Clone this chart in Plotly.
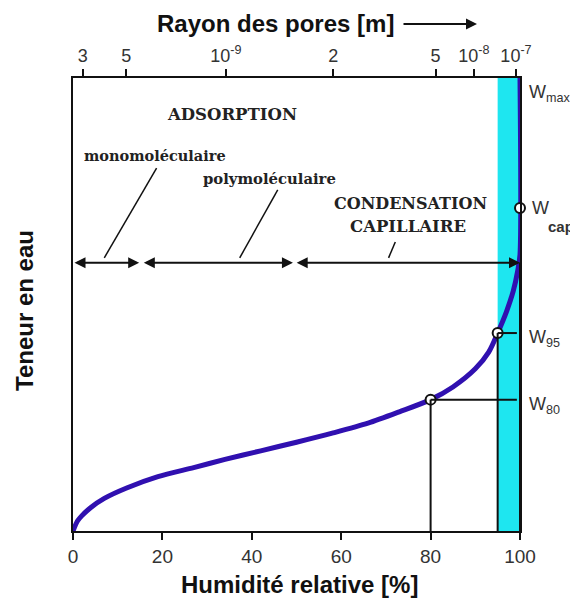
import plotly.graph_objects as go

# ---- data ----
humidity = [0, 1, 2, 4, 7, 12, 19, 27, 34, 42, 50, 58, 66, 73, 80, 85, 90, 93, 95, 97, 98.5, 99.5, 100, 100]
water = [0, 2.2, 3.4, 5.2, 7.2, 9.5, 12.0, 14.0, 15.8, 17.7, 19.6, 21.6, 23.8, 26.3, 29.0, 31.8, 35.8, 39.5, 43.7, 48.5, 53.0, 57.5, 61.0, 100]

bottom_ticks = [0, 20, 40, 60, 80, 100]
top_tick_pos = [2.2, 11.9, 34.2, 58.2, 81.1, 89.7, 99.1]
top_tick_text = ["3", "5", "10<sup>-9</sup>", "2", "5", "10<sup>-8</sup>", "10<sup>-7</sup>"]

point_names = ["W80", "W95", "Wcap"]
point_x = [80, 95, 100]
point_y = [29.0, 43.7, 71.3]

band_range = [95, 100]
arrow_level = 59.2
segments = [[0, 14.8], [15.5, 49.2], [49.7, 100]]

curve_color = "#3010b0"
cyan = "#1ee6f0"
serif = "DejaVu Serif"
sans = "Liberation Sans"

fig = go.Figure()

# cyan band
fig.add_shape(type="rect", xref="x", yref="y", x0=band_range[0], x1=band_range[1], y0=0, y1=100,
              fillcolor=cyan, line_width=0, layer="below")

# reference lines for W80 and W95
for px, py in zip(point_x[:2], point_y[:2]):
    fig.add_shape(type="line", xref="x", yref="y", x0=px, x1=px, y0=0, y1=py,
                  line=dict(color="#111", width=2))
    fig.add_shape(type="line", xref="x", yref="y", x0=px, x1=99.3, y0=py, y1=py,
                  line=dict(color="#111", width=2))
# right black edge below the arrow line
fig.add_shape(type="line", xref="x", yref="y", x0=100, x1=100, y0=0, y1=arrow_level,
              line=dict(color="#111", width=2))

# curve
fig.add_trace(go.Scatter(x=humidity, y=water, mode="lines",
                         line=dict(color=curve_color, width=5, shape="spline", smoothing=0.8),
                         cliponaxis=False, hoverinfo="skip", showlegend=False))
# markers
fig.add_trace(go.Scatter(x=point_x, y=point_y, mode="markers",
                         marker=dict(size=10, color="white", line=dict(color="#111", width=2)),
                         cliponaxis=False, hoverinfo="skip", showlegend=False))
# invisible trace for top axis
fig.add_trace(go.Scatter(x=[0, 100], y=[0, 0], xaxis="x2", mode="markers",
                         marker=dict(opacity=0), hoverinfo="skip", showlegend=False))

# double-headed arrows
for a, b in segments:
    fig.add_annotation(x=b, y=arrow_level, ax=a, ay=arrow_level, xref="x", yref="y",
                       axref="x", ayref="y", text="", showarrow=True, arrowhead=2,
                       arrowside="end+start", arrowsize=1.1, arrowwidth=2,
                       arrowcolor="#111", startarrowhead=2, startarrowsize=1.1,
                       standoff=0, startstandoff=0)

# leader lines
leaders = [[(18.7, 80.1), (7.0, 60.3)], [(45.8, 75.3), (37.3, 60.3)], [(72.1, 63.8), (70.6, 60.3)]]
for (x0, y0), (x1, y1) in leaders:
    fig.add_shape(type="line", xref="x", yref="y", x0=x0, y0=y0, x1=x1, y1=y1,
                  line=dict(color="#111", width=1.5))

# texts in plot
def txt(x, y, s, size=15, family=serif):
    fig.add_annotation(x=x, y=y, xref="x", yref="y", text=s, showarrow=False,
                       xanchor="center", yanchor="middle",
                       font=dict(family=family, size=size, color="#222"))

txt(35.5, 91.9, "<b>ADSORPTION</b>", size=16.5)
txt(18.4, 82.9, "<b>monomoléculaire</b>", size=14.5)
txt(44.0, 77.9, "<b>polymoléculaire</b>", size=14.8)
txt(75.5, 72.4, "<b>CONDENSATION</b>", size=16)
txt(75.0, 67.3, "<b>CAPILLAIRE</b>", size=16.5)

# helpers: screenshot pixel -> paper coordinates (plot area 73..520 x 78..531)
def prx(px):
    return (px - 73) / (520 - 73)

def pry(py):
    return (531 - py) / (531 - 78)

def plabel(px, py, s, size=18, xanchor="left", color="#333", **kw):
    fig.add_annotation(x=prx(px), y=pry(py), xref="paper", yref="paper", text=s, showarrow=False,
                       xanchor=xanchor, yanchor="middle",
                       font=dict(family=sans, size=size, color=color), **kw)

plabel(527, 94, "W<sub>max</sub>")
plabel(527, 338, "W<sub>95</sub>")
plabel(527, 405, "W<sub>80</sub>")
plabel(530, 208, "W")
plabel(546, 226, "<b>cap</b>", size=15)

# axis titles
plabel(275, 23, "<b>Rayon des pores [m]</b>", size=24, xanchor="center", color="#111")
fig.add_annotation(x=prx(477), y=pry(24), ax=-75, ay=0, xref="paper", yref="paper",
                   axref="pixel", ayref="pixel", text="", showarrow=True, arrowhead=2,
                   arrowsize=1.1, arrowwidth=2, arrowcolor="#111", standoff=0)
plabel(299, 584, "<b>Humidité relative [%]</b>", size=24, xanchor="center", color="#111")
plabel(24, 311, "<b>Teneur en eau</b>", size=24, xanchor="center", color="#111", textangle=-90)

fig.update_layout(
    width=578, height=600,
    margin=dict(l=65, r=66, t=70, b=77),
    paper_bgcolor="white", plot_bgcolor="white",
    showlegend=False,
    xaxis=dict(range=[0, 100], tickvals=bottom_ticks, ticks="outside", ticklen=7, tickwidth=2,
               tickcolor="#111", showline=True, linecolor="#111", linewidth=2, mirror=True,
               showgrid=False, zeroline=False,
               tickfont=dict(family=sans, size=19, color="#333")),
    xaxis2=dict(range=[0, 100], overlaying="x", side="top", tickvals=top_tick_pos,
                ticktext=top_tick_text, ticks="outside", ticklen=8, tickwidth=2, tickcolor="#111",
                showline=False, showgrid=False, zeroline=False,
                tickfont=dict(family=sans, size=18, color="#333")),
    yaxis=dict(range=[0, 100], showticklabels=False, ticks="", showline=True, linecolor="#111",
               linewidth=2, mirror=True, showgrid=False, zeroline=False),
)

fig.write_html("out.html")
